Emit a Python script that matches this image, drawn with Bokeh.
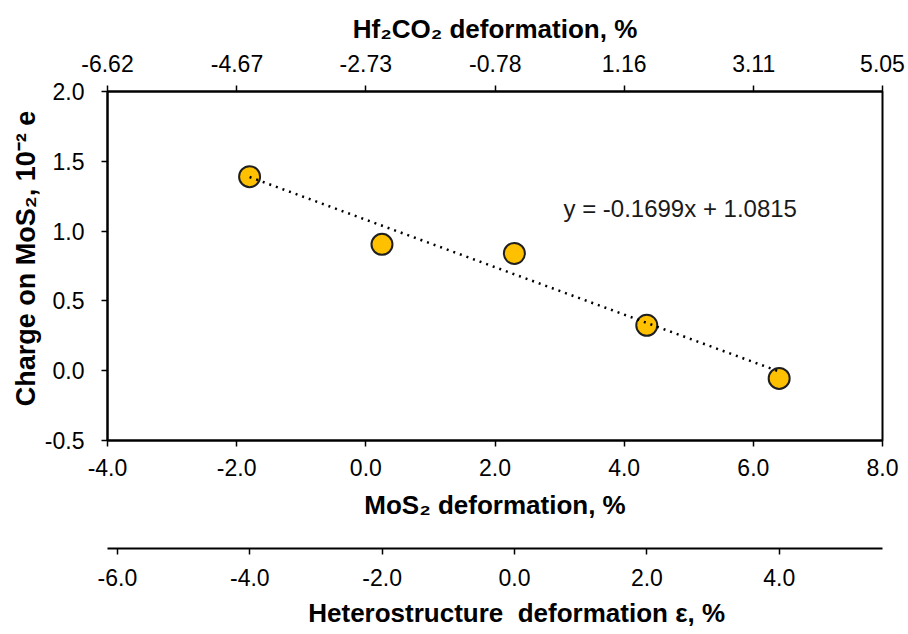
import numpy as np
from bokeh.plotting import figure
from bokeh.models import Range1d, LinearAxis, FixedTicker, NumeralTickFormatter, ColumnDataSource, Label
from bokeh.layouts import column
from bokeh.embed import file_html
from bokeh.resources import INLINE

# ---- data ----
mos2_deformation = [-1.8, 0.25, 2.3, 4.35, 6.4]
charge = [1.39, 0.905, 0.84, 0.325, -0.055]
trend_slope = -0.1699
trend_intercept = 1.0815
equation_label = "y = -0.1699x + 1.0815"
equation_pos = (3.06, 1.162)

mos2_ticks = [-4.0, -2.0, 0.0, 2.0, 4.0, 6.0, 8.0]
charge_ticks = [-0.5, 0.0, 0.5, 1.0, 1.5, 2.0]
hf2co2_ticks = [-6.62, -4.67, -2.73, -0.78, 1.16, 3.11, 5.05]
hetero_ticks = [-6.0, -4.0, -2.0, 0.0, 2.0, 4.0]
hetero_range = (-6.15, 5.56)

FONT = "Liberation Sans"
TICK_SIZE = "23px"
TITLE_SIZE = "26px"
NB = "\u00a0"


def style_axis(ax, label_standoff, title_standoff):
    ax.axis_line_color = "black"
    ax.axis_line_width = 2
    ax.major_tick_line_color = "black"
    ax.major_tick_line_width = 1.5
    ax.major_tick_out = 6
    ax.major_tick_in = 0
    ax.minor_tick_line_color = None
    ax.major_label_text_font = FONT
    ax.major_label_text_font_size = TICK_SIZE
    ax.major_label_text_color = "black"
    ax.major_label_standoff = label_standoff
    ax.axis_label_text_font = FONT
    ax.axis_label_text_font_size = TITLE_SIZE
    ax.axis_label_text_font_style = "bold"
    ax.axis_label_text_color = "black"
    ax.axis_label_standoff = title_standoff


p = figure(width=908, height=530, x_range=Range1d(-4, 8), y_range=Range1d(-0.5, 2.0),
           output_backend="svg", toolbar_location=None,
           min_border_left=107, min_border_right=26, min_border_top=91, min_border_bottom=90)
p.xgrid.visible = False
p.ygrid.visible = False
p.outline_line_color = "black"
p.outline_line_width = 2
p.outline_line_alpha = 1

p.xaxis.ticker = FixedTicker(ticks=mos2_ticks)
p.xaxis.formatter = NumeralTickFormatter(format="0.0")
p.xaxis.axis_label = "MoS\u2082 deformation, %"
style_axis(p.xaxis[0], 12, 11)

p.yaxis.ticker = FixedTicker(ticks=charge_ticks)
p.yaxis.formatter = NumeralTickFormatter(format="0.0")
p.yaxis.axis_label = NB * 2 + "Charge on MoS\u2082, 10\u207b\u00b2 e"
style_axis(p.yaxis[0], 17, 1)
p.yaxis.axis_label_text_font_size = "27px"

p.extra_x_ranges = {"hf": Range1d(hf2co2_ticks[0], hf2co2_ticks[-1])}
top = LinearAxis(x_range_name="hf", ticker=FixedTicker(ticks=hf2co2_ticks),
                 formatter=NumeralTickFormatter(format="0.00"),
                 axis_label="Hf\u2082CO\u2082 deformation, %")
style_axis(top, 14, 8)
p.add_layout(top, "above")

src = ColumnDataSource(dict(x=mos2_deformation, y=charge))
p.scatter("x", "y", source=src, size=21, fill_color="#FFC000", line_color="#1f1f1f", line_width=2)

tx = np.array([min(mos2_deformation), max(mos2_deformation)])
ty = trend_slope * tx + trend_intercept
p.line(tx, ty, line_color="black", line_width=2.5, line_dash="2 5")

p.add_layout(Label(x=equation_pos[0], y=equation_pos[1], text=equation_label,
                   text_font=FONT, text_font_size="24px", text_color="#1a1a1a",
                   text_baseline="middle", text_align="left"))

# second figure: heterostructure axis
p2 = figure(width=908, height=104, x_range=Range1d(*hetero_range), y_range=Range1d(0, 1),
            output_backend="svg", toolbar_location=None, y_axis_location=None,
            min_border_left=107, min_border_right=26, min_border_top=17, min_border_bottom=86)
p2.outline_line_color = None
p2.xgrid.visible = False
p2.ygrid.visible = False
p2.xaxis.ticker = FixedTicker(ticks=hetero_ticks)
p2.xaxis.formatter = NumeralTickFormatter(format="0.0")
p2.xaxis.axis_label = NB * 6 + "Heterostructure" + NB * 2 + "deformation \u03b5, %"
style_axis(p2.xaxis[0], 14, 9)

layout = column(p, p2, spacing=0)
open("out.html", "w").write(file_html(layout, INLINE))
